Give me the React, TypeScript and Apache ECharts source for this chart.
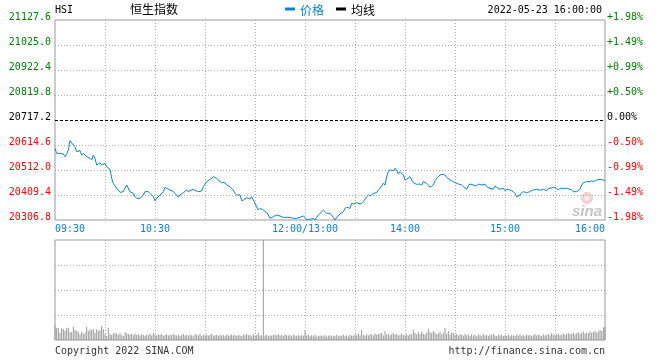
import React, { useEffect, useRef } from 'react';
import * as echarts from 'echarts';

const PREV_CLOSE = 20717.2;
const STEP = 102.6;

// trading minutes since 09:30 (lunch break removed: 150 = 12:00/13:00)
const minutes = [
  0, 1, 3, 5, 6, 7, 8, 9, 11, 12, 13, 15, 16, 17, 19, 21, 22, 23, 24, 25, 27, 28, 30, 31, 33, 34, 35, 37, 39,
  41, 42, 43, 45, 47, 48, 49, 51, 53, 54, 56, 57, 59, 60, 61, 63, 65, 66, 67, 69, 71, 73, 74, 75, 77, 79,
  80, 81, 83, 85, 86, 88, 89, 91, 93, 94, 95, 97, 99, 100, 102, 103, 105, 107, 108, 109, 111, 112, 113,
  115, 117, 118, 119, 121, 122, 123, 125, 127, 128, 129, 131, 133, 135, 137, 139, 141, 143, 145, 147, 149,
  150, 151, 153, 155, 156, 157, 159, 161, 162, 163, 165, 167, 168, 169, 171, 173, 174, 175, 177, 178, 179,
  181, 183, 184, 185, 187, 188, 189, 191, 193, 194, 195, 197, 198, 199, 200, 201, 203, 204, 205, 206, 207,
  209, 210, 211, 213, 214, 215, 217, 219, 220, 221, 223, 224, 225, 227, 228, 229, 231, 233, 234, 235, 237,
  239, 240, 242, 244, 245, 247, 248, 249, 251, 253, 254, 256, 258, 259, 261, 263, 264, 265, 267, 269, 270,
  271, 273, 275, 276, 277, 279, 280, 281, 283, 285, 286, 287, 289, 291, 292, 293, 295, 296, 297, 299, 301,
  302, 303, 305, 307, 309, 310, 311, 313, 315, 316, 317, 319, 321, 322, 323, 325, 327, 328, 330
];

const prices = [
  20600.9, 20580.4, 20580.4, 20577.7, 20566.7, 20577.7, 20594.1, 20632.4, 20614.6, 20607.8, 20587.2, 20591.3,
  20573.6, 20580.4, 20566.7, 20559.9, 20553.0, 20573.6, 20559.9, 20532.5, 20542.1, 20532.5, 20539.4, 20525.7,
  20514.7, 20477.8, 20457.3, 20436.8, 20420.3, 20423.1, 20436.8, 20450.4, 20423.1, 20416.2, 20402.6, 20395.7,
  20395.7, 20409.4, 20423.1, 20423.1, 20416.2, 20402.6, 20386.1, 20395.7, 20409.4, 20423.1, 20440.9, 20436.8,
  20429.9, 20423.1, 20409.4, 20399.8, 20409.4, 20419.0, 20429.9, 20423.1, 20427.2, 20432.7, 20425.8, 20423.1,
  20425.8, 20443.6, 20464.1, 20473.7, 20477.8, 20484.6, 20477.8, 20464.1, 20460.0, 20460.0, 20450.4, 20443.6,
  20429.9, 20416.2, 20409.4, 20409.4, 20386.1, 20388.9, 20398.5, 20393.0, 20402.6, 20388.9, 20361.5, 20347.8,
  20354.7, 20347.8, 20336.9, 20327.3, 20313.6, 20320.5, 20327.3, 20323.2, 20317.7, 20317.7, 20317.7, 20313.6,
  20313.6, 20317.7, 20323.2, 20317.7, 20306.8, 20309.5, 20313.6, 20306.8, 20317.7, 20334.2, 20347.8, 20341.0,
  20334.2, 20334.2, 20317.7, 20306.8, 20317.7, 20331.4, 20341.0, 20354.7, 20358.8, 20355.0, 20375.2, 20372.5,
  20377.9, 20372.5, 20375.2, 20382.0, 20402.6, 20409.4, 20405.3, 20416.2, 20419.0, 20429.9, 20436.8, 20457.3,
  20450.4, 20484.6, 20505.2, 20512.0, 20509.3, 20518.8, 20509.3, 20495.6, 20505.2, 20491.5, 20470.9, 20473.7,
  20484.6, 20470.9, 20460.0, 20453.2, 20454.5, 20450.4, 20464.1, 20457.3, 20450.4, 20440.9, 20450.4, 20468.2,
  20477.8, 20491.5, 20494.2, 20491.5, 20481.9, 20470.9, 20464.1, 20460.0, 20454.5, 20450.4, 20443.6, 20432.7,
  20446.3, 20454.5, 20450.4, 20446.3, 20454.5, 20450.4, 20454.5, 20443.6, 20436.8, 20432.7, 20446.3, 20440.9,
  20432.7, 20436.8, 20427.2, 20432.7, 20429.9, 20423.1, 20416.2, 20402.6, 20409.4, 20419.0, 20423.1, 20419.0,
  20423.1, 20427.2, 20429.9, 20432.7, 20429.9, 20429.9, 20432.7, 20427.2, 20436.8, 20436.8, 20440.9, 20436.8,
  20429.9, 20436.8, 20436.8, 20436.8, 20432.7, 20429.9, 20423.1, 20423.1, 20432.7, 20450.4, 20460.0, 20464.1,
  20464.1, 20468.2, 20464.1, 20470.9, 20473.7, 20473.7, 20468.2
];

// per-minute volume, minutes 0..330 (relative units)
const volumes = [
  150, 123, 120, 70, 117, 110, 93, 117, 123, 83,
  77, 133, 100, 90, 83, 57, 83, 60, 73, 130,
  90, 107, 100, 110, 73, 107, 90, 100, 140, 107,
  60, 40, 123, 60, 50, 67, 67, 67, 50, 67,
  50, 40, 77, 67, 60, 55, 62, 48, 65, 52,
  58, 45, 60, 50, 42, 55, 48, 62, 45, 70,
  55, 45, 58, 52, 60, 42, 50, 58, 46, 55,
  48, 62, 50, 44, 56, 40, 52, 60, 45, 50,
  42, 55, 48, 38, 58, 50, 45, 62, 40, 52,
  47, 56, 44, 50, 60, 42, 48, 53, 40, 55,
  45, 50, 38, 56, 48, 42, 58, 44, 50, 40,
  52, 46, 40, 55, 48, 62, 44, 50, 38, 57,
  45, 50, 70, 42, 48, 1000, 45, 52, 40, 48,
  42, 50, 55, 48, 60, 45, 52, 40, 58, 47,
  44, 50, 38, 55, 46, 42, 50, 40, 48, 45,
  100,
  45, 55, 38, 48, 42, 50, 36, 45, 40,
  44, 38, 50, 35, 42, 48, 37, 45, 40, 52,
  38, 45, 42, 55, 40, 48, 36, 50, 44, 42,
  55, 48, 60, 45, 100, 50, 42, 58, 46, 62,
  55, 48, 65, 52, 60, 58, 70, 45, 90, 55,
  62, 48, 58, 70, 55, 60, 45, 52, 65, 50,
  48, 58, 45, 62, 55, 100, 70, 55, 80, 60,
  85, 62, 55, 75, 110, 80, 68, 90, 72, 58,
  65, 80, 55, 70, 120, 62, 90, 55, 75, 68,
  52, 60, 45, 58, 50, 42, 62, 48, 55, 40,
  58, 45, 52, 38, 55, 48, 42, 60, 45, 50,
  40, 55, 48, 62, 45, 38, 52, 44, 56, 40,
  48, 42, 55, 38, 50, 45, 40, 52, 44, 58,
  42, 50, 38, 55, 46, 52, 40, 48, 60, 44,
  52, 48, 40, 58, 46, 50, 62, 48, 70, 55,
  50, 58, 62, 48, 55, 65, 52, 60, 70, 58,
  62, 75, 58, 68, 80, 60, 72, 85, 65, 75,
  70, 88, 72, 80, 92, 75, 85, 100, 90, 125,
  130
];

const priceTickLabels = ['20306.8', '20409.4', '20512.0', '20614.6', '20717.2', '20819.8', '20922.4', '21025.0', '21127.6'];
const pctTickLabels = ['-1.98%', '-1.49%', '-0.99%', '-0.50%', '0.00%', '+0.50%', '+0.99%', '+1.49%', '+1.98%'];
const timeTickMinutes = [0, 60, 150, 210, 270, 330];
const timeTickLabels = ['09:30', '10:30', '12:00/13:00', '14:00', '15:00', '16:00'];

const BLUE = '#0b7fd4';
const MONO = '"DejaVu Sans Mono", monospace';
const CJK = '"Noto Sans CJK SC", sans-serif';

export default function App() {
  const ref = useRef<HTMLDivElement>(null);
  useEffect(() => {
    const chart = echarts.init(ref.current as HTMLDivElement, null, { renderer: 'svg' });
    const lineData = minutes.map((m, i) => [m, (prices[i] - PREV_CLOSE) / STEP]);
    const volData = volumes.map((v, i) => [i, v]);
    const labelColor = (v: any) => {
      const n = Math.round(Number(v));
      return n > 0 ? '#008000' : n < 0 ? '#ff0000' : '#000000';
    };
    const dotted = { color: '#aaaaaa', type: [1, 2], width: 1 };
    const gridLineColors = ['#aaaaaa', '#aaaaaa', '#aaaaaa', 'rgba(0,0,0,0)', '#aaaaaa', '#aaaaaa', '#aaaaaa'];

    chart.setOption({
      animation: false,
      title: {
        text: '恒生指数',
        left: 130,
        top: 2,
        padding: 0,
        textStyle: { fontSize: 12, fontWeight: 'normal', color: '#000', fontFamily: CJK }
      },
      legend: {
        left: 285,
        top: 3,
        padding: 0,
        itemWidth: 10,
        itemHeight: 3,
        itemGap: 12,
        icon: 'rect',
        selectedMode: false,
        textStyle: { fontSize: 12, fontFamily: CJK },
        data: [
          { name: '价格', textStyle: { color: BLUE } },
          { name: '均线', textStyle: { color: '#000' } }
        ]
      },
      grid: [
        { left: 55, top: 20, width: 550, height: 200, show: true, borderColor: '#999', borderWidth: 1 },
        { left: 55, top: 240, width: 550, height: 100, show: true, borderColor: '#999', borderWidth: 1 }
      ],
      xAxis: [
        {
          type: 'value', gridIndex: 0, min: 0, max: 330, interval: 30,
          axisLine: { show: false }, axisTick: { show: false },
          splitLine: { show: true, showMinLine: false, showMaxLine: false, lineStyle: dotted },
          axisLabel: {
            showMinLabel: true, showMaxLabel: true,
            alignMinLabel: 'left', alignMaxLabel: 'right',
            margin: 3, fontFamily: MONO, fontSize: 10, color: BLUE,
            formatter: (v: number) => {
              const k = timeTickMinutes.indexOf(Math.round(v));
              return k >= 0 ? timeTickLabels[k] : '';
            }
          }
        },
        {
          type: 'value', gridIndex: 1, min: 0, max: 330, interval: 30,
          axisLine: { show: false }, axisTick: { show: false }, axisLabel: { show: false },
          splitLine: { show: true, showMinLine: false, showMaxLine: false, lineStyle: dotted }
        }
      ],
      yAxis: [
        {
          type: 'value', gridIndex: 0, min: -4, max: 4, interval: 1,
          axisLine: { show: false }, axisTick: { show: false },
          splitLine: {
            show: true, showMinLine: false, showMaxLine: false,
            lineStyle: { color: gridLineColors, type: [1, 2], width: 1 }
          },
          axisLabel: {
            margin: 4, fontFamily: MONO, fontSize: 10, color: labelColor,
            verticalAlign: 'bottom', lineHeight: 7,
            formatter: (v: number) => priceTickLabels[Math.round(v) + 4]
          }
        },
        {
          type: 'value', gridIndex: 0, position: 'right', min: -4, max: 4, interval: 1,
          axisLine: { show: false }, axisTick: { show: false }, splitLine: { show: false },
          axisLabel: {
            margin: 2, fontFamily: MONO, fontSize: 10, color: labelColor,
            verticalAlign: 'bottom', lineHeight: 7,
            formatter: (v: number) => pctTickLabels[Math.round(v) + 4]
          }
        },
        {
          type: 'value', gridIndex: 1, min: 0, max: 1000, interval: 250,
          axisLine: { show: false }, axisTick: { show: false }, axisLabel: { show: false },
          splitLine: { show: true, showMinLine: false, showMaxLine: false, lineStyle: dotted }
        }
      ],
      series: [
        {
          name: '价格', type: 'line', xAxisIndex: 0, yAxisIndex: 0,
          data: lineData, showSymbol: false, symbol: 'none',
          lineStyle: { color: BLUE, width: 1 }, itemStyle: { color: BLUE },
          markLine: {
            silent: true, symbol: 'none', label: { show: false },
            lineStyle: { color: '#000', type: [3, 2], width: 1 },
            data: [{ yAxis: 0 }]
          }
        },
        {
          name: '均线', type: 'line', xAxisIndex: 0, yAxisIndex: 0,
          data: [], showSymbol: false,
          lineStyle: { color: '#000', width: 1 }, itemStyle: { color: '#000' }
        },
        {
          name: '成交量', type: 'bar', xAxisIndex: 1, yAxisIndex: 2,
          data: volData, barWidth: 1, itemStyle: { color: '#999' }
        }
      ],
      graphic: [
        {
          type: 'text', x: 55, y: 9,
          style: { text: 'HSI', font: '10px ' + MONO, fill: '#000', textVerticalAlign: 'middle', verticalAlign: 'middle' }
        },
        {
          type: 'text', x: 602, y: 9,
          style: {
            text: '2022-05-23 16:00:00', font: '10px ' + MONO, fill: '#000',
            textAlign: 'right', align: 'right', textVerticalAlign: 'middle', verticalAlign: 'middle'
          }
        },
        {
          type: 'text', x: 55, y: 350,
          style: { text: 'Copyright 2022 SINA.COM', font: '10px ' + MONO, fill: '#333', textVerticalAlign: 'middle', verticalAlign: 'middle' }
        },
        {
          type: 'text', x: 605, y: 350,
          style: {
            text: 'http://finance.sina.com.cn', font: '10px ' + MONO, fill: '#333',
            textAlign: 'right', align: 'right', textVerticalAlign: 'middle', verticalAlign: 'middle'
          }
        },
        {
          type: 'group', silent: true,
          children: [
            { type: 'circle', shape: { cx: 587, cy: 198, r: 6 }, style: { fill: 'rgba(235,120,120,0.35)' } },
            { type: 'circle', shape: { cx: 587, cy: 198, r: 2.5 }, style: { fill: 'rgba(255,255,255,0.8)' } },
            {
              type: 'text', x: 572, y: 210,
              style: {
                text: 'sina', font: 'italic bold 15px sans-serif', fill: 'rgba(150,150,150,0.55)',
                textVerticalAlign: 'middle', verticalAlign: 'middle'
              }
            }
          ]
        }
      ]
    });
    return () => chart.dispose();
  }, []);
  return <div ref={ref} style={{ position: 'fixed', left: 0, top: 0, width: 660, height: 360 }} />;
}
